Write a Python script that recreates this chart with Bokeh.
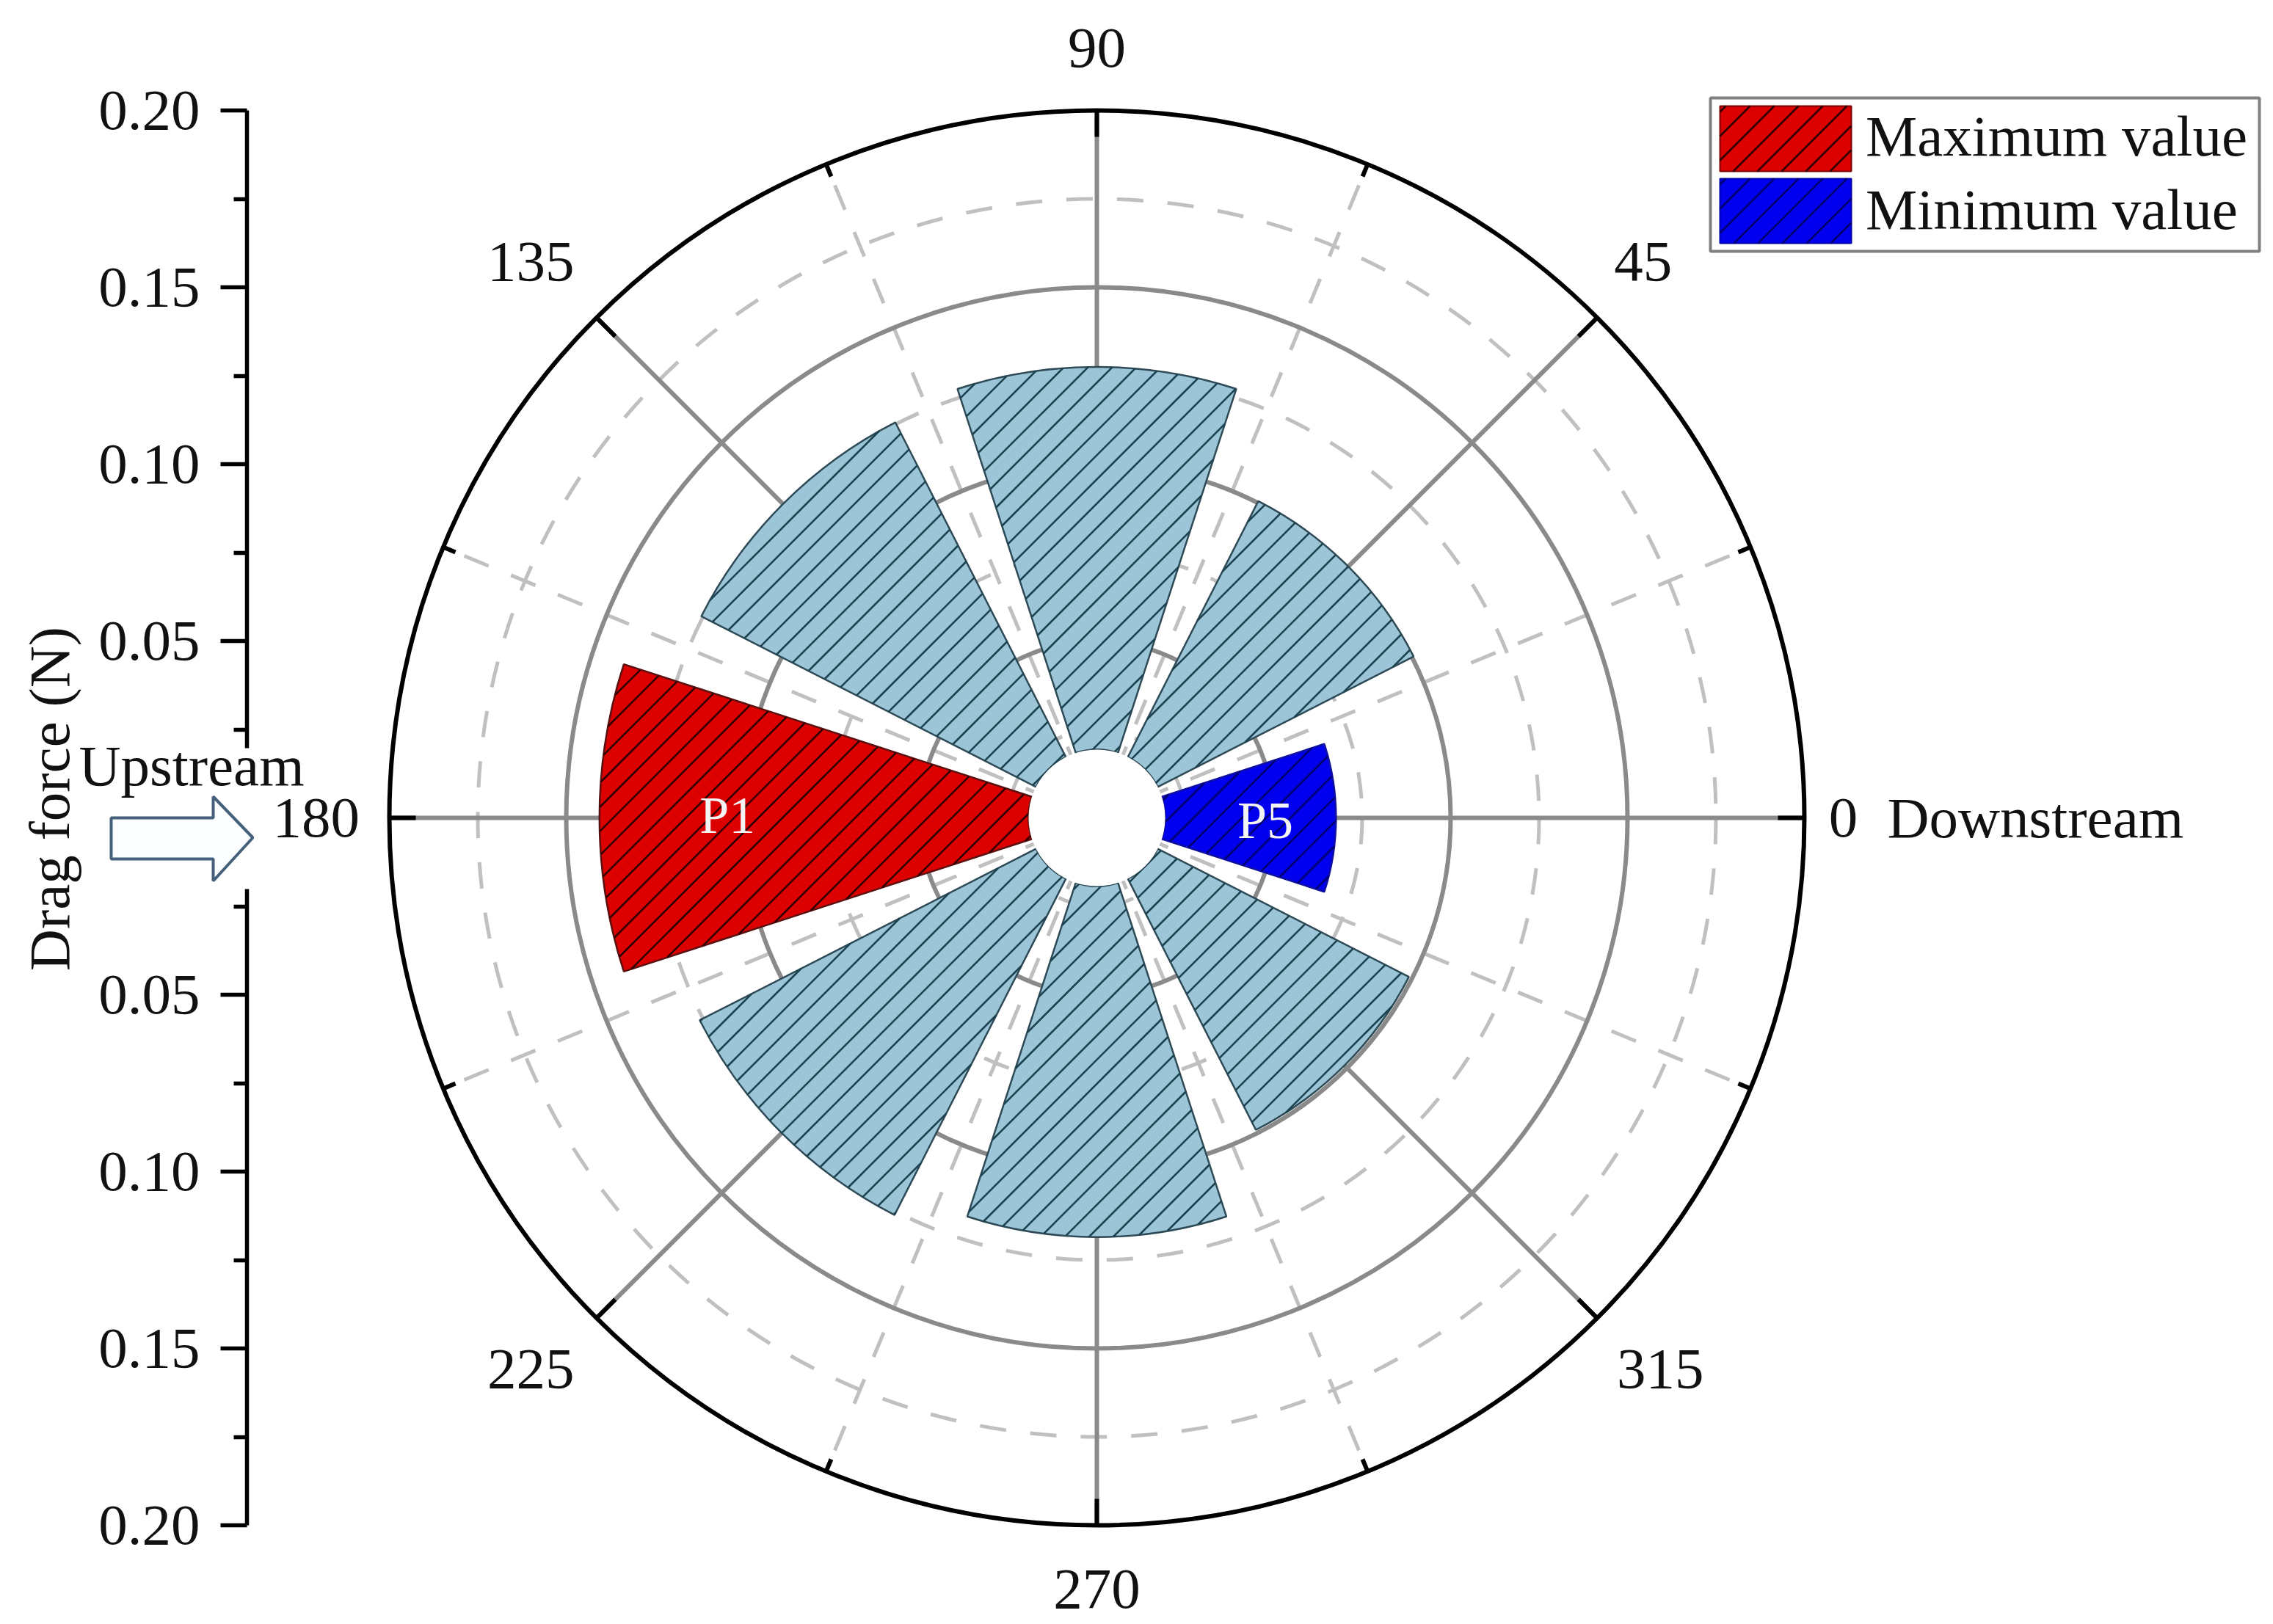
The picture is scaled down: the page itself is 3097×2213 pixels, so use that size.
import math
import numpy as np
from bokeh.plotting import figure
from bokeh.embed import file_html
from bokeh.resources import INLINE
from bokeh.models import (Range1d, FixedTicker, Label, BoxAnnotation, PolyAnnotation, Legend, LegendItem)
from bokeh.core.properties import value

# ---- data -----------------------------------------------------------
bar_angles = [0, 45, 90, 135, 180, 225, 270, 315]
bar_values = [0.0676, 0.1005, 0.1275, 0.1255, 0.1406, 0.1260, 0.1185, 0.0990]
bar_colors = ["#0000ee", "#9cc6d8", "#9cc6d8", "#9cc6d8", "#dd0000", "#9cc6d8", "#9cc6d8", "#9cc6d8"]
bar_outlines = ["#1010a0", "#2e4a56", "#2e4a56", "#2e4a56", "#5a1010", "#2e4a56", "#2e4a56", "#2e4a56"]
hatch_colors = ["#000070", "#1c4250", "#1c4250", "#1c4250", "#300000", "#1c4250", "#1c4250", "#1c4250"]
bar_width_deg = 36
hole_radius = 0.0193
solid_rings = [0.05, 0.10, 0.15]
dashed_rings = [0.025, 0.075, 0.125, 0.175]
outer_radius = 0.20
solid_spokes = [0, 45, 90, 135, 180, 225, 270, 315]
dashed_spokes = [22.5, 67.5, 112.5, 157.5, 202.5, 247.5, 292.5, 337.5]
major_ticks = [-0.20, -0.15, -0.10, -0.05, 0.05, 0.10, 0.15, 0.20]
minor_ticks = [-0.175, -0.125, -0.075, -0.025, 0.025, 0.075, 0.125, 0.175]
angle_labels = ["0", "45", "90", "135", "180", "225", "270", "315"]
angle_label_x = [0.2110, 0.1544, 0.0, -0.1600, -0.2207, -0.1600, 0.0, 0.1593]
angle_label_y = [0.0000, 0.1572, 0.2177, 0.1572, 0.0000, -0.1558, -0.2180, -0.1558]
bar_labels = ["P1", "P5"]
bar_label_x = [-0.1044, 0.0476]
bar_label_y = [0.0007, -0.0008]
legend_labels = ["Maximum value", "Minimum value"]
SERIF = "Liberation Serif"
FS = "79px"

# ---- layout (page pixels) --------------------------------------------
W, H = 3081, 2205
cx, cy = 1494, 1114
scale = 964 / 0.20
x0 = (0 - cx) / scale
x1 = (W - cx) / scale
y0 = (cy - H) / scale
y1 = cy / scale
HATCH_PERP = 23.3 / scale

def dx(v): return (v - cx) / scale
def dy(v): return (cy - v) / scale

p = figure(width=W, height=H, output_backend="svg", toolbar_location=None,
           x_range=Range1d(x0, x1), y_range=Range1d(y0, y1),
           min_border_left=0, min_border_right=0, min_border_top=0, min_border_bottom=0,
           outline_line_color=None, background_fill_color="white", border_fill_color="white")
p.xaxis.visible = False
p.xgrid.visible = False
p.ygrid.visible = False

ax = p.yaxis[0]
ax.fixed_location = dx(336)
ax.ticker = FixedTicker(ticks=major_ticks, minor_ticks=minor_ticks)
ax.bounds = (-0.2, 0.2)
ax.axis_line_color = "black"
ax.axis_line_width = 5.5
ax.major_tick_line_color = "black"
ax.major_tick_line_width = 5.5
ax.minor_tick_line_color = "black"
ax.minor_tick_line_width = 5.5
ax.major_tick_in = 0
ax.major_tick_out = 36
ax.minor_tick_in = 0
ax.minor_tick_out = 18
ax.major_label_standoff = 28
ax.major_label_text_font = SERIF
ax.major_label_text_font_size = FS
ax.major_label_text_color = "#111111"
ax.major_label_overrides = {-0.2: "0.20", -0.15: "0.15", -0.1: "0.10", -0.05: "0.05",
                            0.05: "0.05", 0.1: "0.10", 0.15: "0.15", 0.2: "0.20"}

# rings and spokes
def spoke(deg, r0, r1):
    a = math.radians(deg)
    return [r0 * math.cos(a), r1 * math.cos(a)], [r0 * math.sin(a), r1 * math.sin(a)]

p.circle(x=[0] * len(dashed_rings), y=[0] * len(dashed_rings), radius=dashed_rings, fill_color=None,
         line_color="#c0c0c0", line_width=5, line_dash="36 33")
sx = [spoke(d, 0, outer_radius) for d in dashed_spokes]
p.multi_line([s[0] for s in sx], [s[1] for s in sx], line_color="#c0c0c0", line_width=5, line_dash="36 33")
p.circle(x=[0] * len(solid_rings), y=[0] * len(solid_rings), radius=solid_rings, fill_color=None,
         line_color="#8a8a8a", line_width=6)
sx = [spoke(d, 0, outer_radius) for d in solid_spokes]
p.multi_line([s[0] for s in sx], [s[1] for s in sx], line_color="#8a8a8a", line_width=6)
# outer ticks
sx = [spoke(d, outer_radius - 36 / scale, outer_radius) for d in solid_spokes]
p.multi_line([s[0] for s in sx], [s[1] for s in sx], line_color="black", line_width=6)
sx = [spoke(d, outer_radius - 18 / scale, outer_radius) for d in dashed_spokes]
p.multi_line([s[0] for s in sx], [s[1] for s in sx], line_color="black", line_width=6)
p.circle(x=[0], y=[0], radius=[outer_radius], fill_color=None, line_color="black", line_width=6)

# bars
start = [math.radians(a - bar_width_deg / 2) for a in bar_angles]
end = [math.radians(a + bar_width_deg / 2) for a in bar_angles]
p.annular_wedge(x=[0] * 8, y=[0] * 8, inner_radius=[hole_radius] * 8, outer_radius=bar_values,
                start_angle=start, end_angle=end, fill_color=bar_colors,
                line_color=bar_outlines, line_width=2.5)

# hatch lines: family of 45-degree lines clipped to each bar
def bar_hatch(angle, val):
    xs, ys = [], []
    t = np.arange(-0.22, 0.22, 0.5 / scale)
    for k in range(-60, 61):
        c = k * HATCH_PERP
        lx = t / math.sqrt(2) - c / math.sqrt(2)
        ly = t / math.sqrt(2) + c / math.sqrt(2)
        r = np.hypot(lx, ly)
        d = (np.degrees(np.arctan2(ly, lx)) - angle + 180) % 360 - 180
        ok = (r >= hole_radius) & (r <= val) & (np.abs(d) <= bar_width_deg / 2)
        if ok.any():
            idx = np.where(ok)[0]
            xs.append([float(lx[idx[0]]), float(lx[idx[-1]])])
            ys.append([float(ly[idx[0]]), float(ly[idx[-1]])])
    return xs, ys

hx, hy, hc = [], [], []
for a, v, c in zip(bar_angles, bar_values, hatch_colors):
    xs, ys = bar_hatch(a, v)
    hx += xs
    hy += ys
    hc += [c] * len(xs)
p.multi_line(hx, hy, line_color=hc, line_width=2.6)
p.circle(x=[0], y=[0], radius=[hole_radius], fill_color="white", line_color=None)

# text inside plot
p.text(x=bar_label_x, y=bar_label_y, text=bar_labels, text_color="#f4f4f4", text_font=value(SERIF),
       text_font_size="72px", text_align="center", text_baseline="middle")
p.text(x=angle_label_x, y=angle_label_y, text=angle_labels, text_color="#111111", text_font=value(SERIF),
       text_font_size=FS, text_align="center", text_baseline="middle")
p.text(x=[dx(2571)], y=[dy(1114)], text=["Downstream"], text_color="#111111",
       text_font=value(SERIF), text_font_size=FS, text_align="left", text_baseline="middle")

# legend swatches (glyph level), then a real Legend whose own key glyphs are transparent
def swatch(l, r, t, b, fill, outline, hatch):
    p.quad(left=[dx(l)], right=[dx(r)], top=[dy(t)], bottom=[dy(b)], fill_color=fill, line_color=outline, line_width=2)
    xs, ys = [], []
    for off in np.arange(l - (b - t) + 8, r, 33.0):
        x_a, y_a = off, b
        x_b, y_b = off + (b - t), t
        if x_a < l:
            y_a -= l - x_a
            x_a = l
        if x_b > r:
            y_b += x_b - r
            x_b = r
        xs.append([dx(x_a), dx(x_b)])
        ys.append([dy(y_a), dy(y_b)])
    p.multi_line(xs, ys, line_color=hatch, line_width=2.6)

swatch(2343, 2522, 144, 233, "#dd0000", "#7a0000", "#300000")
swatch(2343, 2522, 243, 331, "#0000ee", "#0000aa", "#000070")

nan = float("nan")
r_max = p.quad(left=[nan], right=[nan], top=[nan], bottom=[nan], fill_alpha=0, line_alpha=0)
r_min = p.quad(left=[nan], right=[nan], top=[nan], bottom=[nan], fill_alpha=0, line_alpha=0)
legend = Legend(items=[LegendItem(label=legend_labels[0], renderers=[r_max]),
                       LegendItem(label=legend_labels[1], renderers=[r_min])],
                location=(2342, H - 331), margin=0, padding=11, spacing=10,
                glyph_width=179, glyph_height=89, label_standoff=21, label_height=89, label_width=510,
                label_text_font=SERIF, label_text_font_size=FS, label_text_color="#111111",
                border_line_color=None, background_fill_alpha=0)
p.add_layout(legend)
p.add_layout(BoxAnnotation(left=2330, right=3078, top=133, bottom=342,
                           left_units="canvas", right_units="canvas", top_units="canvas", bottom_units="canvas",
                           fill_alpha=0, line_color="#808080", line_alpha=1, line_width=4))

# annotations that lie over the axis
p.add_layout(BoxAnnotation(left=318, right=350, top=1019, bottom=1211,
                           left_units="canvas", right_units="canvas", top_units="canvas", bottom_units="canvas",
                           fill_color="white", fill_alpha=1, line_color=None))
p.add_layout(PolyAnnotation(
    xs=[151, 290, 290, 344, 290, 290, 151],
    ys=[1114, 1114, 1085, 1141, 1200, 1170, 1170],
    xs_units="canvas", ys_units="canvas", fill_color="#fbfdff", fill_alpha=1,
    line_color="#44607a", line_alpha=1, line_width=4))
p.add_layout(Label(x=107, y=1043, x_units="canvas", y_units="canvas", text="Upstream",
                   text_font=SERIF, text_font_size=FS, text_color="#111111", text_baseline="middle", text_align="left"))
p.add_layout(Label(x=67, y=1088, x_units="canvas", y_units="canvas", text="Drag force (N)", angle=math.pi / 2,
                   text_font=SERIF, text_font_size=FS, text_color="#111111", text_baseline="middle", text_align="center"))

open("out.html", "w").write(file_html(p, INLINE))
